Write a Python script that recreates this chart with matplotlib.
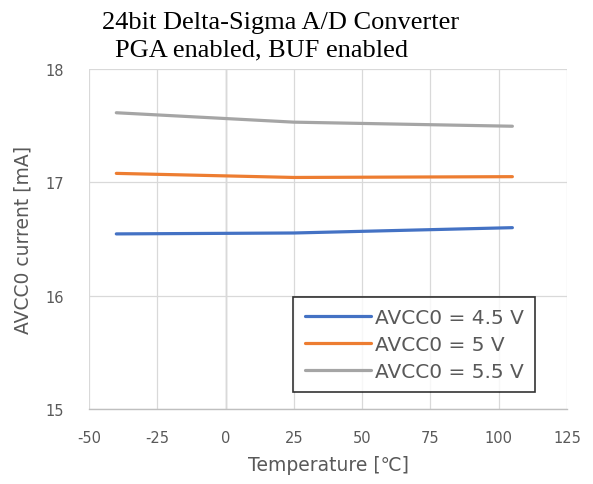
import matplotlib
matplotlib.use("Agg")
import matplotlib.pyplot as plt

plt.rcParams["axes.unicode_minus"] = False

# Data
temps = [-40, 25, 105]
avcc_45 = [16.545, 16.553, 16.600]
avcc_50 = [17.079, 17.043, 17.050]
avcc_55 = [17.614, 17.531, 17.495]
labels = ["AVCC0 = 4.5 V", "AVCC0 = 5 V", "AVCC0 = 5.5 V"]
colors = ["#4472C4", "#ED7D31", "#A5A5A5"]

x_ticks = [-50, -25, 0, 25, 50, 75, 100, 125]
y_ticks = [15, 16, 17, 18]

sans = ["DejaVu Sans", "Noto Sans CJK JP"]
grey_txt = "#595959"

W, H = 593, 485
fig = plt.figure(figsize=(W / 100, H / 100), dpi=100)
ax = fig.add_axes([89 / W, (H - 410) / H, 478 / W, 340 / H])

for ys, lab, c in zip([avcc_45, avcc_50, avcc_55], labels, colors):
    ax.plot(temps, ys, color=c, lw=2.3, label=lab, solid_capstyle="round", zorder=3)

ax.set_xlim(-50, 125)
ax.set_ylim(15, 18)
ax.set_xticks(x_ticks)
ax.set_yticks(y_ticks)
ax.grid(True, color="#D9D9D9", lw=0.9, zorder=0)
ax.axvline(0, color="#BFBFBF", lw=1.0, zorder=1)
for s in ["top", "right", "left"]:
    ax.spines[s].set_visible(False)
ax.spines["bottom"].set_color("#BFBFBF")
ax.spines["bottom"].set_linewidth(1.0)
ax.tick_params(length=0, labelsize=10.5, labelcolor=grey_txt)
ax.tick_params(axis="x", pad=15)
ax.tick_params(axis="y", pad=18)
for t in ax.get_xticklabels() + ax.get_yticklabels():
    t.set_family(sans)

ax.set_xlabel("Temperature [℃]", family=sans, fontsize=13.5, color=grey_txt, labelpad=7)
ax.set_ylabel("AVCC0 current [mA]", family=sans, fontsize=13.5, color=grey_txt, labelpad=9)

fig.text(102 / W, 1 - 29 / H, "24bit Delta-Sigma A/D Converter",
         family="Liberation Serif", fontsize=19, color="black", ha="left", va="baseline")
fig.text(115 / W, 1 - 56 / H, "PGA enabled, BUF enabled",
         family="Liberation Serif", fontsize=19, color="black", ha="left", va="baseline")

leg = ax.legend(loc="lower right", bbox_to_anchor=(535 / W, (H - 393) / H),
                bbox_transform=fig.transFigure, prop={"family": sans, "size": 14.5},
                frameon=True, fancybox=False, handlelength=3.3, handletextpad=0.2,
                labelspacing=0.4, borderpad=0.55, borderaxespad=0)
leg.get_frame().set_edgecolor("black")
leg.get_frame().set_linewidth(1.2)
for t in leg.get_texts():
    t.set_color(grey_txt)

fig.savefig("out.png", dpi=100)
